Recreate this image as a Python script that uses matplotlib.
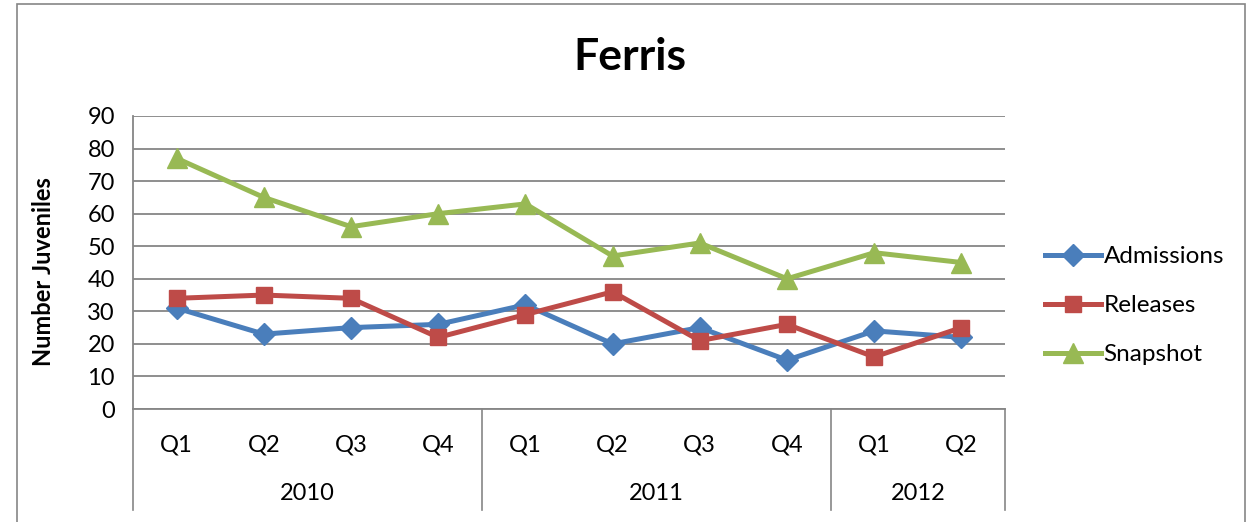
import matplotlib
matplotlib.use("Agg")
from matplotlib import pyplot as plt
from matplotlib.patches import Rectangle

# data
quarters = ['Q1', 'Q2', 'Q3', 'Q4', 'Q1', 'Q2', 'Q3', 'Q4', 'Q1', 'Q2']
years = ['2010', '2011', '2012']
year_spans = [(0, 3), (4, 7), (8, 9)]
admissions = [31, 23, 25, 26, 32, 20, 25, 15, 24, 22]
releases = [34, 35, 34, 22, 29, 36, 21, 26, 16, 25]
snapshot = [77, 65, 56, 60, 63, 47, 51, 40, 48, 45]

plt.rcParams['font.family'] = ['Lato', 'DejaVu Sans']
grey = '#868686'

fig = plt.figure(figsize=(12.53, 5.22), dpi=100)
ax = fig.add_axes([133/1253, 1 - 409/522, 872/1253, 293/522])

# outer chart frame
fig.patches.append(Rectangle((17/1253, -0.1), (1245-17)/1253, 1.1 - 4/522,
                             transform=fig.transFigure, fill=False,
                             edgecolor=grey, linewidth=1.2))

x = list(range(len(quarters)))
ax.plot(x, admissions, color='#4A7EBB', lw=3.6, marker='D', ms=11, label='Admissions')
ax.plot(x, releases, color='#BE4B48', lw=3.6, marker='s', ms=12, label='Releases')
ax.plot(x, snapshot, color='#98B954', lw=3.6, marker='^', ms=14, label='Snapshot')

ax.set_xlim(-0.5, len(quarters) - 0.5)
ax.set_ylim(0, 90)
ax.set_yticks(range(0, 91, 10))
ax.yaxis.grid(True, color=grey, lw=1.3)
ax.set_axisbelow(True)
ax.tick_params(axis='y', labelsize=17, length=0, pad=13)
ax.set_xticks([])
for s in ['top', 'right']:
    ax.spines[s].set_visible(False)
for s in ['left', 'bottom']:
    ax.spines[s].set_color(grey)
    ax.spines[s].set_linewidth(1.3)

ax.set_ylabel('Number Juveniles', fontsize=17, fontweight='bold')
ax.yaxis.set_label_coords(-0.090, 0.468)

# two-level category axis
tr = ax.get_xaxis_transform()
for xi, q in zip(x, quarters):
    ax.text(xi, -0.123, q, transform=tr, ha='center', va='center', fontsize=17)
bounds = [-0.5] + [b + 0.5 for _, b in year_spans]
for b in bounds:
    ax.plot([b, b], [0, -0.345], transform=tr, color=grey, lw=1.2, clip_on=False)
for yr, (a, b) in zip(years, year_spans):
    ax.text((a + b) / 2, -0.287, yr, transform=tr, ha='center', va='center', fontsize=17)

fig.text(630/1253, 1 - 57/522, 'Ferris', ha='center', va='center',
         fontsize=32, fontweight='bold')

leg = ax.legend(loc='center left', bbox_to_anchor=(1.046, 0.352), frameon=False,
                fontsize=17.5, handlelength=2.3, handletextpad=0.1,
                labelspacing=1.15, borderpad=0, borderaxespad=0)

fig.savefig('out.png', dpi=100)
